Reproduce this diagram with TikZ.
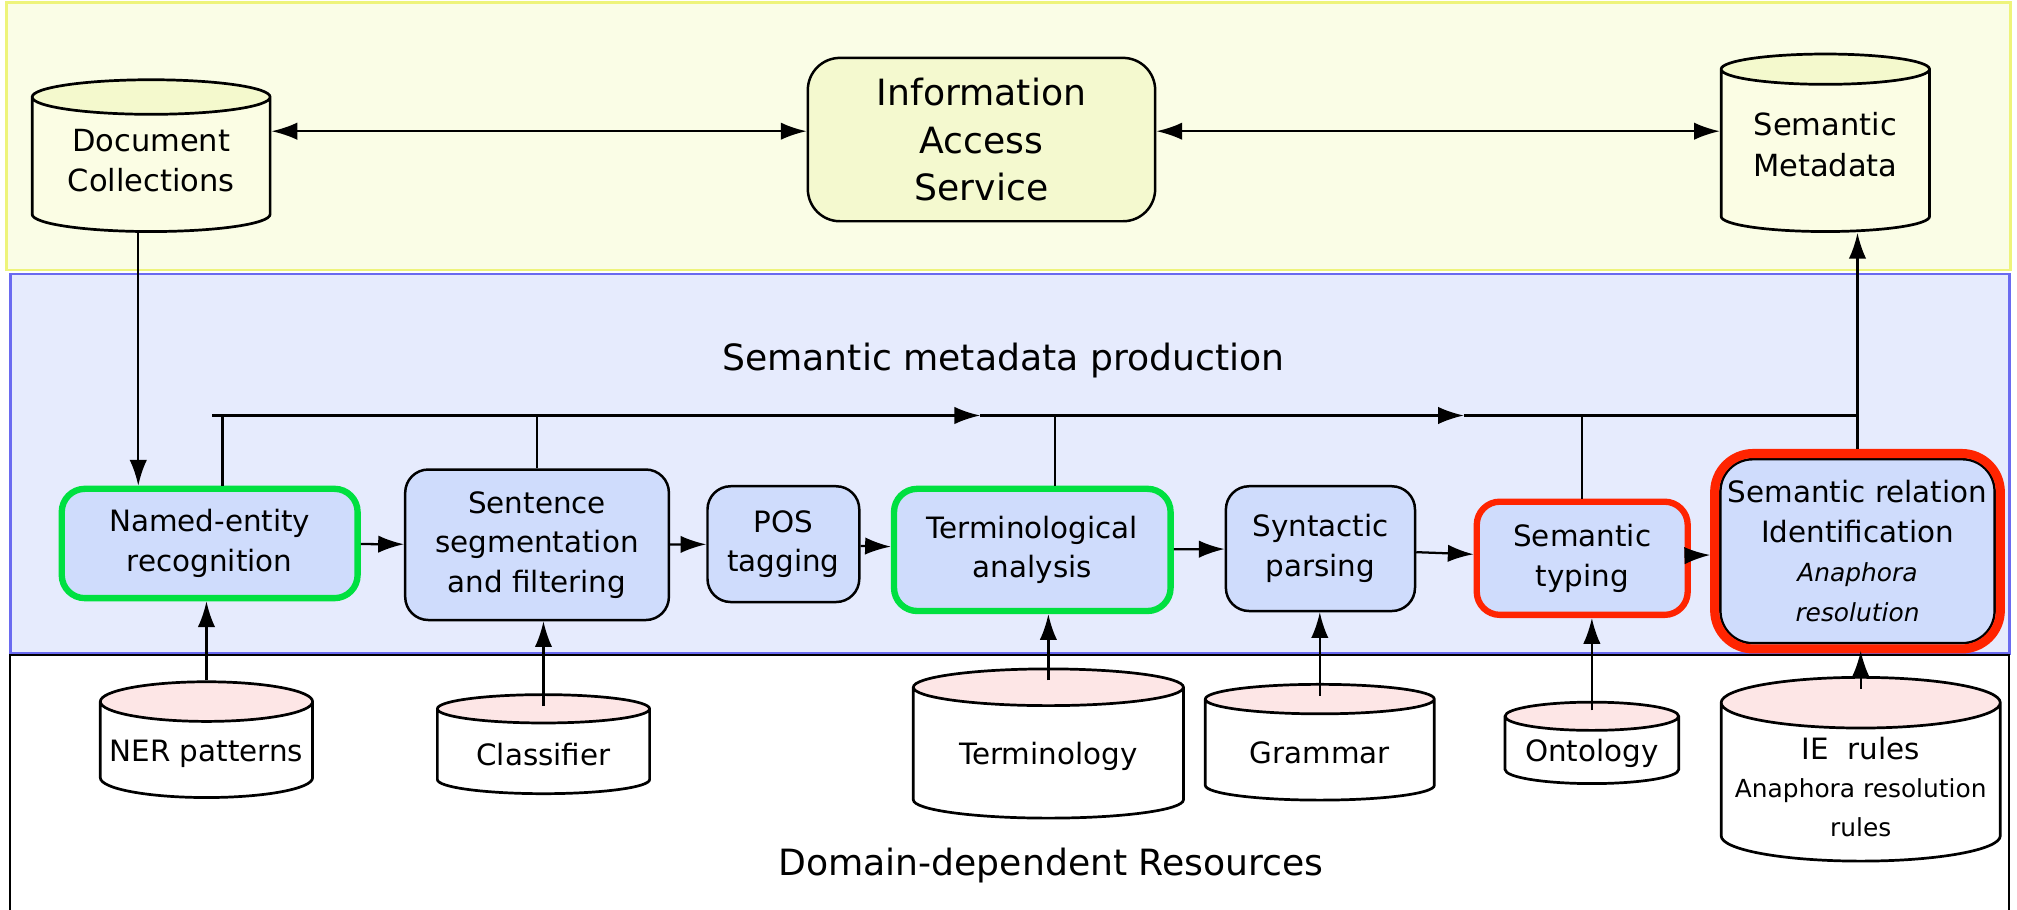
\documentclass[tikz,border=0pt]{standalone}
\usepackage{fontspec}
\setmainfont{DejaVu Sans}
\usetikzlibrary{shapes.geometric,arrows.meta}

\definecolor{accfill}{RGB}{250,253,230}
\definecolor{accline}{RGB}{238,244,122}
\definecolor{prodfill}{RGB}{230,235,253}
\definecolor{prodline}{RGB}{106,106,240}
\definecolor{stagefill}{RGB}{207,220,252}
\definecolor{iasfill}{RGB}{244,249,207}
\definecolor{docbody}{RGB}{251,253,228}
\definecolor{docend}{RGB}{244,249,205}
\definecolor{resend}{RGB}{253,230,230}
\definecolor{hlgreen}{RGB}{0,224,64}
\definecolor{hlred}{RGB}{255,36,0}

\begin{document}
\begin{tikzpicture}[x=0.2mm,y=-0.2mm,
    >={Latex[length=4mm,width=2.7mm]},
    every node/.style={align=center},
    link/.style={line width=1pt},
    stage/.style={draw, line width=1.1pt, rounded corners=3.6mm, fill=stagefill,
      font=\fontsize{13}{17.5}\selectfont},
    store/.style={cylinder, shape border rotate=90, aspect=0.19, anchor=shape center,
      draw, line width=1.2pt,
      cylinder uses custom fill, cylinder body fill=white, cylinder end fill=resend,
      font=\fontsize{13}{17}\selectfont},
    topstore/.style={store, cylinder body fill=docbody, cylinder end fill=docend,
      font=\fontsize{13.5}{18}\selectfont},
    greenmark/.style={draw=hlgreen, line width=2.8pt},
    redmark/.style={draw=hlred, line width=2.8pt}]
  \useasboundingbox (0,0) rectangle (1568,707);

  % the three layers
  \draw[draw=accline, fill=accfill, line width=1.2pt] (5,2) rectangle (1563,210);
  \draw[draw=prodline, fill=prodfill, line width=1.2pt] (8,213) rectangle (1562,508);
  \draw[line width=1pt] (8,715) -- (8,509) -- (1562,509) -- (1562,715);

  \node[font=\fontsize{16}{19}\selectfont] (prodtitle) at (780,280) {Semantic metadata production};
  \node[font=\fontsize{16}{19}\selectfont] (restitle) at (817,673) {Domain-dependent Resources};

  % access layer
  \node[topstore, minimum width=37mm, minimum height=23.6mm] (doc) at (117.5,121) {Document\\Collections\\[-4mm]};
  \node[stage, fill=iasfill, rounded corners=5mm, minimum width=54mm, minimum height=25.4mm,
    font=\fontsize{16}{21}\selectfont] (ias) at (763,108.5) {Information\\Access\\Service};
  \node[topstore, minimum width=32.4mm, minimum height=27.6mm] (meta) at (1419,111) {Semantic\\Metadata\\[-3.4mm]};

  % processing chain
  \node[stage, greenmark, minimum width=46mm, minimum height=17mm] (ner) at (163,422.5) {Named-entity\\recognition};
  \node[stage, minimum width=41mm, minimum height=23.4mm] (sent) at (417.5,423.5) {Sentence\\segmentation\\and filtering};
  \node[stage, minimum width=23.6mm, minimum height=18mm] (pos) at (609,423) {POS\\tagging};
  \node[stage, greenmark, minimum width=43mm, minimum height=19mm] (term) at (802.5,427.5) {Terminological\\analysis};
  \node[stage, minimum width=29.4mm, minimum height=19.4mm] (synt) at (1026.5,426.5) {Syntactic\\parsing};
  \node[stage, redmark, minimum width=32.8mm, minimum height=17.6mm] (styp) at (1230,434) {Semantic\\typing};
  \node[stage, rounded corners=5mm, minimum width=42.4mm, minimum height=28.6mm] (rel) at (1444,428.5)
    {Semantic relation\\Identification\\{\fontsize{11}{14.5}\selectfont\itshape Anaphora}\\{\fontsize{11}{14.5}\selectfont\itshape resolution}};
  \draw[draw=hlred, line width=4pt, rounded corners=6mm]
    ([shift={(-3.5,-3.5)}]rel.north west) rectangle ([shift={(3.5,3.5)}]rel.south east);

  % resources
  \node[store, minimum width=33mm, minimum height=18mm] (nerp) at (160.5,575) {NER patterns};
  \node[store, minimum width=33mm, minimum height=15.4mm] (clas) at (422.5,578.5) {Classifier};
  \node[store, minimum width=42mm, minimum height=23.2mm] (termy) at (815,578) {Terminology};
  \node[store, minimum width=35.6mm, minimum height=18mm] (gram) at (1026,577) {Grammar};
  \node[store, minimum width=27mm, minimum height=11.8mm] (onto) at (1237.5,577.5) {Ontology};
  \node[store, minimum width=43.4mm, minimum height=26mm] (ier) at (1446.5,598)
    {IE\ \ rules\\{\fontsize{11}{17}\selectfont Anaphora resolution}\\{\fontsize{11}{17}\selectfont rules}};

  % access arrows
  \coordinate (acc) at (0,102);
  \draw[link,<->] (doc.east |- acc) -- (ias.west |- acc);
  \draw[link,<->] (ias.east |- acc) -- (meta.west |- acc);
  \draw[link,->] ([xshift=-2mm]doc.south) -- ([xshift=-2mm]doc.south |- ner.north);
  \draw[link,->] ([yshift=1.4mm]rel.north) -- (rel.north |- meta.south);

  % chain arrows
  \draw[link,->] (ner) -- (sent);
  \draw[link,->] (sent) -- (pos);
  \draw[link,->] (pos) -- (term);
  \draw[link,->] (term) -- (synt);
  \draw[link,->] (synt) -- (styp);
  \draw[link,->,shorten >=1.4mm] (styp) -- (rel);

  % feedback line over the chain
  \coordinate (fbstart) at (165,323);
  \coordinate (fbmidA) at (762,323);
  \coordinate (fbmidB) at (1138,323);
  \coordinate (fbend) at (1444,323);
  \draw[link,->] (fbstart) -- (fbmidA);
  \draw[link,->] (fbmidA) -- (fbmidB);
  \draw[link] (fbmidB) -- (fbend);
  \draw[link] ([xshift=2mm]ner.north) -- ([xshift=2mm]ner.north |- fbstart);
  \draw[link] (sent.north) -- (sent.north |- fbstart);
  \draw[link] ([xshift=3.5mm]term.north) -- ([xshift=3.5mm]term.north |- fbstart);
  \draw[link] (styp.north) -- (styp.north |- fbstart);

  % resources feeding the chain
  \draw[link,->] (nerp.north) -- (nerp.north |- ner.south);
  \draw[link,->] ([yshift=-2mm]clas.north) -- (clas.north |- sent.south);
  \draw[link,->] ([yshift=-2mm]termy.north) -- (termy.north |- term.south);
  \draw[link,->] ([yshift=-2mm]gram.north) -- (gram.north |- synt.south);
  \draw[link,->] ([yshift=-1.5mm]onto.north) -- (onto.north |- styp.south);
  \draw[link,->] ([yshift=-2mm]ier.north) -- ([yshift=-1mm]ier.north |- rel.south);
\end{tikzpicture}
\end{document}
